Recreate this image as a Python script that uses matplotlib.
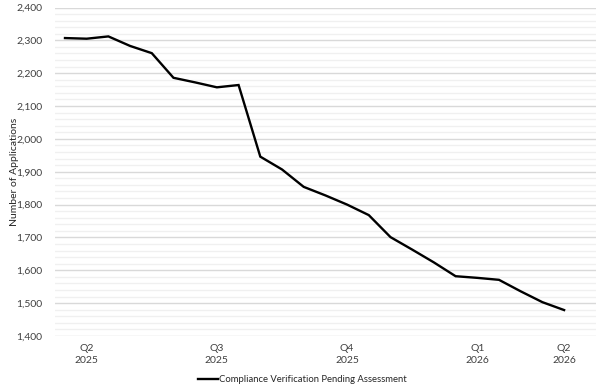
import matplotlib
matplotlib.use("Agg")
import matplotlib.pyplot as plt
from matplotlib.ticker import MultipleLocator, FuncFormatter

values = [2307, 2305, 2312, 2283, 2261, 2186, 2172, 2157, 2164, 1946, 1907, 1854,
          1828, 1800, 1768, 1701, 1663, 1624, 1582, 1577, 1571, 1536, 1503, 1479]
tick_idx = [1, 7, 13, 19, 23]
tick_labels = ["Q2\n2025", "Q3\n2025", "Q4\n2025", "Q1\n2026", "Q2\n2026"]
series_name = "Compliance Verification Pending Assessment"
y_label = "Number of Applications"

plt.rcParams['font.family'] = ['Lato', 'DejaVu Sans']
fig = plt.figure(figsize=(6.02, 3.9), dpi=100)
ax = fig.add_axes([55/602, 1-336/390, (596-55)/602, (336-7.5)/390])

x = list(range(len(values)))
ax.plot(x, values, color='black', lw=1.7, label=series_name, solid_joinstyle='miter')

ax.set_ylim(1400, 2400)
ax.set_xlim(-0.46, 24.47)
ax.yaxis.set_major_locator(MultipleLocator(100))
ax.yaxis.set_minor_locator(MultipleLocator(20))
ax.yaxis.set_major_formatter(FuncFormatter(lambda v, p: f"{int(v):,}"))
ax.grid(axis='y', which='major', color='#d9d9d9', lw=1.0)
ax.grid(axis='y', which='minor', color='#f0f0f0', lw=1.0)
ax.set_axisbelow(True)
for s in ax.spines.values():
    s.set_visible(False)
ax.set_xticks(tick_idx)
ax.set_xticklabels(tick_labels, fontsize=7.5, color='#404040', linespacing=1.4)
ax.tick_params(axis='both', which='both', length=0)
ax.tick_params(axis='y', labelsize=7.5, labelcolor='#404040', pad=9)
ax.tick_params(axis='x', pad=6)
ax.set_ylabel(y_label, fontsize=7.5, color='#262626')
ax.yaxis.set_label_coords(-(55-19)/541, 0.5)

fig.legend(handles=ax.get_lines(), loc='center', bbox_to_anchor=(302/602, 1-380/390),
           frameon=False, fontsize=6.8, handlelength=2.2, handletextpad=0.05,
           labelcolor='#262626')
fig.savefig("out.png", dpi=100)
